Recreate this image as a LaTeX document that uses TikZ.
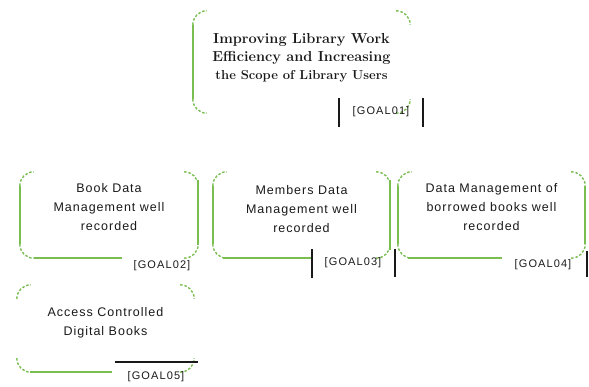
\documentclass[tikz,border=0pt]{standalone}
\usepackage{fontspec}
\setsansfont{Liberation Sans}
\newfontfamily\goalfont[LetterSpace=8]{Liberation Sans}
\newfontfamily\tagfont[LetterSpace=10]{Liberation Sans}
\usepackage{tikz}
\usetikzlibrary{positioning, calc}
\definecolor{goalgreen}{RGB}{122,190,82}
\definecolor{goaldark}{RGB}{25,25,25}
\tikzset{
  goalbox/.style={rectangle, inner sep=0pt, minimum height=86pt},
  goaltext/.style={align=center, inner sep=0pt, text=goaldark,
    font=\goalfont\fontsize{12.5}{19}\selectfont},
  maintext/.style={align=center, inner sep=0pt, text=goaldark,
    font=\bfseries\fontsize{14.5}{18}\selectfont},
  tag/.style={inner sep=0pt, text=goaldark, font=\tagfont\fontsize{11}{12}\selectfont},
  corner/.style={draw=goalgreen, line width=1.4pt, dash pattern=on 2.5pt off 1.8pt, rounded corners=14pt},
  side/.style={draw=goalgreen, line width=2.2pt},
  tagbar/.style={draw=goaldark, line width=2.2pt}
}
% dashed rounded corners of a goal box
\newcommand{\goalcorners}[1]{%
  \draw[corner] ($(#1.north west)+(0,14)$) -- (#1.north west) -- ($(#1.north west)+(14,0)$);
  \draw[corner] ($(#1.north east)+(-14,0)$) -- (#1.north east) -- ($(#1.north east)+(0,14)$);
  \draw[corner] ($(#1.south west)+(0,-14)$) -- (#1.south west) -- ($(#1.south west)+(14,0)$);
  \draw[corner] ($(#1.south east)+(-14,0)$) -- (#1.south east) -- ($(#1.south east)+(0,-14)$);
}

\begin{document}
\begin{tikzpicture}[x=1pt, y=-1pt]
  \useasboundingbox (0,0) rectangle (589,387);

  % goal boxes
  \node[goalbox, minimum width=217pt, minimum height=102pt] (g1) at (301.5,62) {};
  \node[goalbox, minimum width=178pt] (g2) at (109,215) {};
  \node[goalbox, minimum width=177pt] (g3) at (301.5,215) {};
  \node[goalbox, minimum width=187pt] (g4) at (491.5,215) {};
  \node[goalbox, minimum width=177pt, minimum height=87pt] (g5) at (105.5,328.5) {};

  \foreach \g in {g1,g2,g3,g4,g5} {\goalcorners{\g}}

  % texts
  \node[maintext] (t1) at ($(g1.center)+(0,-4)$) {Improving Library Work\\Efficiency and Increasing\\{\fontsize{13}{18}\selectfont the Scope of Library Users}};
  \node[goaltext] (t2) at ($(g2.center)+(0,-8)$) {Book Data\\Management well\\recorded};
  \node[goaltext] (t3) at ($(g3.center)+(0,-6)$) {Members Data\\Management well\\recorded};
  \node[goaltext] (t4) at ($(g4.center)+(0,-8)$) {Data Management of\\borrowed books well\\recorded};
  \node[goaltext] (t5) at ($(g5.center)+(0,-6)$) {Access Controlled\\Digital Books};

  % visible sides
  \draw[side] ($(g1.north west)+(0,14)$) -- ($(g1.south west)+(0,-14)$);
  \draw[side] ($(g2.north west)+(0,14)$) -- ($(g2.south west)+(0,-14)$);
  \draw[side] ($(g2.north east)+(0,8)$) -- ($(g2.south east)+(0,-13)$);
  \draw[side] ($(g2.south west)+(14,0)$) -- ++(88,0) coordinate (e2);
  \draw[side] ($(g3.north west)+(0,14)$) -- ($(g3.south west)+(0,-14)$);
  \draw[side] ($(g3.north east)+(0,8)$) -- ($(g3.south east)+(0,-8)$);
  \draw[side] ($(g3.south west)+(10,0)$) -- ++(89,0) coordinate (e3);
  \draw[side] ($(g4.north west)+(0,14)$) -- ($(g4.south west)+(0,-14)$);
  \draw[side] ($(g4.north east)+(0,14)$) -- ($(g4.south east)+(0,-14)$);
  \draw[side] ($(g4.south west)+(10,0)$) -- ++(94,0) coordinate (e4);
  \draw[side] ($(g5.south west)+(13,0)$) -- ++(82,0) coordinate (e5);

  % goal tags
  \node[tag] (c1) at (381,112) {[GOAL01]};
  \draw[tagbar] (339,98) -- (339,127);
  \draw[tagbar] (423,98) -- (423,127);
  \node[tag] (c2) at (162,266) {[GOAL02]};
  \node[tag] (c3) at (353,263) {[GOAL03]};
  \draw[tagbar] (e3) ++(0,-9) -- ++(0,29);
  \draw[tagbar] (395,249) -- (395,277);
  \node[tag] (c4) at (543,265) {[GOAL04]};
  \draw[tagbar] (587,251) -- (587,277);
  \node[tag] (c5) at (156,377) {[GOAL05]};
  \draw[tagbar] (115,362) -- (198,362);
\end{tikzpicture}
\end{document}
